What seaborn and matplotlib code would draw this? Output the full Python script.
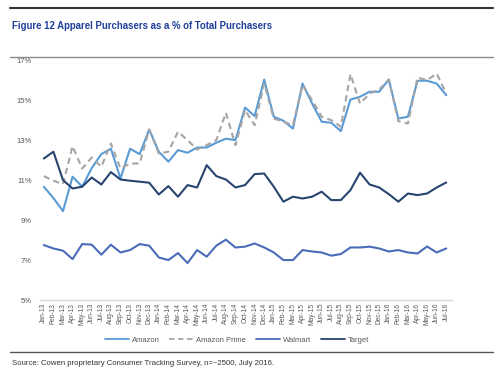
import numpy as np
import pandas as pd
import seaborn as sns
import matplotlib
matplotlib.use("Agg")
import matplotlib.pyplot as plt
from matplotlib.lines import Line2D
from matplotlib.ticker import FuncFormatter

months = list(pd.date_range("2013-01-01", periods=43, freq="MS").strftime("%b-%y"))

amazon = [10.67, 10.1, 9.45, 11.17, 10.67, 11.6, 12.3, 12.57, 11.08, 12.57, 12.3, 13.53,
          12.42, 11.92, 12.5, 12.37, 12.63, 12.63, 12.87, 13.07, 13.0, 14.63, 14.2, 16.03,
          14.17, 13.97, 13.58, 15.83, 14.83, 13.92, 13.87, 13.45, 15.03, 15.17, 15.42, 15.42,
          16.03, 14.08, 14.17, 15.97, 15.97, 15.83, 15.25]
amazon_prime = [11.2, 10.97, 10.8, 12.7, 11.58, 12.13, 11.67, 12.83, 11.58, 11.83, 11.83, 13.53,
                12.33, 12.42, 13.42, 13.0, 12.53, 12.75, 13.0, 14.37, 12.75, 14.5, 13.75, 15.83,
                14.08, 13.92, 13.75, 15.75, 15.0, 14.17, 14.0, 13.67, 16.3, 14.83, 15.33, 15.53,
                16.03, 13.95, 13.83, 16.13, 16.0, 16.33, 15.33]
walmart = [7.75, 7.58, 7.47, 7.05, 7.8, 7.77, 7.27, 7.77, 7.38, 7.5, 7.8, 7.72,
           7.13, 7.0, 7.35, 6.85, 7.5, 7.17, 7.72, 8.02, 7.63, 7.67, 7.83, 7.63,
           7.38, 7.0, 7.0, 7.5, 7.43, 7.38, 7.22, 7.3, 7.63, 7.63, 7.67, 7.58,
           7.43, 7.5, 7.38, 7.33, 7.68, 7.38, 7.58]
target = [12.08, 12.42, 11.0, 10.58, 10.67, 11.13, 10.78, 11.4, 11.03, 10.97, 10.92, 10.87,
          10.28, 10.7, 10.17, 10.75, 10.63, 11.75, 11.2, 11.03, 10.63, 10.75, 11.3, 11.33,
          10.67, 9.92, 10.17, 10.08, 10.17, 10.42, 10.0, 10.0, 10.5, 11.37, 10.78, 10.63,
          10.3, 9.92, 10.33, 10.25, 10.33, 10.63, 10.88]

series_names = ["Amazon", "Amazon Prime", "Walmart", "Target"]
colors = {"Amazon": "#5b9bd5", "Amazon Prime": "#a5a5a5", "Walmart": "#4a6cb8", "Target": "#28456f"}
dashes = {"Amazon": "", "Amazon Prime": (3, 2), "Walmart": "", "Target": ""}

df = pd.DataFrame({"month_idx": list(range(len(months))) * 4,
                   "value": amazon + amazon_prime + walmart + target,
                   "series": sum([[n] * len(months) for n in series_names], [])})

sns.set_theme(style="white")
plt.rcParams['font.family'] = ['Liberation Sans', 'DejaVu Sans']

figure = plt.figure(figsize=(5, 3.76), dpi=100)
axis = figure.add_axes([0.08, 0.202, 0.824, 0.638])

sns.lineplot(data=df, x="month_idx", y="value", hue="series", style="series",
             palette=colors, dashes=dashes, linewidth=1.5, legend=False, ax=axis)

axis.set_ylim(5, 17)
axis.set_yticks([5, 7, 9, 11, 13, 15, 17])
axis.yaxis.set_major_formatter(FuncFormatter(lambda v, p: f"{v:.0f}%"))
axis.set_xlim(-0.4, 42.6)
axis.set_xticks(list(range(len(months))))
axis.set_xticklabels(months, rotation=90)
axis.tick_params(axis='x', labelsize=4.8, colors='#595959', pad=2, length=0)
axis.tick_params(axis='y', labelsize=5.5, colors='#595959', pad=6, length=0)
axis.set(xlabel='', ylabel='')

for side in ['top', 'right', 'left']:
    axis.spines[side].set_visible(False)
axis.spines['bottom'].set_color('#d9d9d9')
axis.spines['bottom'].set_linewidth(1.0)

handles = [Line2D([], [], color=colors[n], linewidth=1.3,
                  linestyle=(0, (3, 2)) if n == "Amazon Prime" else '-') for n in series_names]
figure.legend(handles, series_names, loc='center', bbox_to_anchor=(0.474, 0.096), ncol=4,
              frameon=False, fontsize=5.5, handlelength=3.1, handletextpad=0.4,
              columnspacing=1.3, labelcolor='#595959')

figure.add_artist(Line2D([0.02, 0.986], [0.979, 0.979], color='#333333', linewidth=1.5))
figure.add_artist(Line2D([0.02, 0.986], [0.848, 0.848], color='#8c8c8c', linewidth=1.0))
figure.add_artist(Line2D([0.02, 0.986], [0.064, 0.064], color='#555555', linewidth=1.0))

figure.text(0.024, 0.932, "Figure 12 Apparel Purchasers as a % of Total Purchasers",
            fontsize=6.9, fontweight='bold', color='#1f3f9a', va='center')
figure.text(0.024, 0.032, "Source: Cowen proprietary Consumer Tracking Survey, n=~2500, July 2016.",
            fontsize=5.6, color='#333333', va='center')

plt.savefig("out.png", dpi=100)
plt.close(figure)
